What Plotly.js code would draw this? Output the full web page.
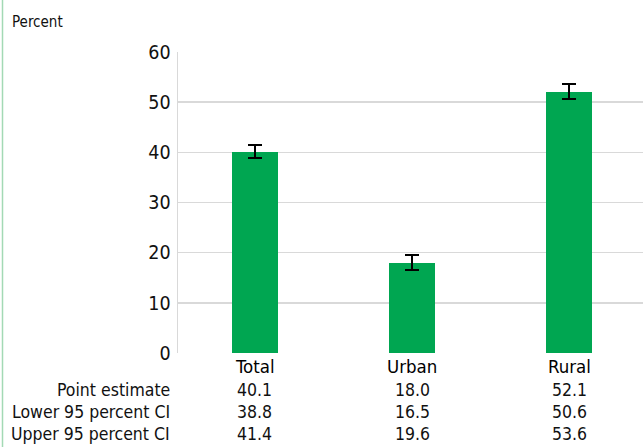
<!DOCTYPE html>
<html>
<head>
<meta charset="utf-8">
<script src="https://cdn.plot.ly/plotly-3.0.1.min.js"></script>
<style>
  html, body { margin: 0; padding: 0; background: #fff; }
  #chart { width: 643px; height: 447px; }
</style>
</head>
<body>
<div id="chart"></div>
<script>
// Share of respondents by residence, with 95% confidence intervals
const categories = ['Total', 'Urban', 'Rural'];
const pointEstimate = [40.1, 18.0, 52.1];
const lowerCI = [38.8, 16.5, 50.6];
const upperCI = [41.4, 19.6, 53.6];
const rowLabels = ['Point estimate', 'Lower 95 percent CI', 'Upper 95 percent CI'];
const yTicks = [0, 10, 20, 30, 40, 50, 60];

const FONT = '"DejaVu Sans Condensed", "Liberation Sans Narrow", sans-serif';
const W = 643, H = 447;
const M = { l: 178, r: 0, t: 52, b: 94 };
const plotH = H - M.t - M.b;
const plotW = W - M.l - M.r;
const py = px => (H - M.b - px) / plotH;   // pixel row -> paper y
const pxX = px => (px - M.l) / plotW;        // pixel column -> paper x

const idx = categories.map((_, i) => i);

const trace = {
  type: 'bar',
  x: idx,
  y: pointEstimate,
  width: 0.293,
  marker: { color: '#00a651', line: { width: 0 } },
  error_y: {
    type: 'data',
    symmetric: false,
    array: upperCI.map((u, i) => +(u - pointEstimate[i]).toFixed(2)),
    arrayminus: lowerCI.map((l, i) => +(pointEstimate[i] - l).toFixed(2)),
    color: '#000',
    thickness: 2,
    width: 7
  },
  hoverinfo: 'skip'
};

const annotations = [];
// category header row
categories.forEach((c, i) => {
  annotations.push({
    xref: 'x', yref: 'paper', x: i, y: py(366),
    text: c, showarrow: false, xanchor: 'center', yanchor: 'middle',
    font: { family: FONT, size: 18.5, color: '#000', weight: 500 }
  });
});
// table rows
const rows = [pointEstimate, lowerCI, upperCI];
const rowY = [390, 412, 434];
rows.forEach((vals, r) => {
  annotations.push({
    xref: 'paper', yref: 'paper', x: pxX(172), y: py(rowY[r]),
    text: rowLabels[r], showarrow: false, xanchor: 'right', yanchor: 'middle',
    font: { family: FONT, size: 17.5, color: '#111' }
  });
  vals.forEach((v, i) => {
    annotations.push({
      xref: 'x', yref: 'paper', x: i, y: py(rowY[r]),
      text: v.toFixed(1), showarrow: false, xanchor: 'center', yanchor: 'middle',
      font: { family: FONT, size: 17.5, color: '#111' }
    });
  });
});
// axis unit label
annotations.push({
  xref: 'paper', yref: 'paper', x: pxX(10), y: py(22),
  text: 'Percent', showarrow: false, xanchor: 'left', yanchor: 'middle',
  font: { family: FONT, size: 15, color: '#111' }
});

const layout = {
  width: W, height: H,
  margin: M,
  paper_bgcolor: '#fff',
  plot_bgcolor: '#fff',
  showlegend: false,
  bargap: 0,
  xaxis: {
    range: [-0.49, 2.47],
    showticklabels: false,
    showgrid: false,
    zeroline: false,
    showline: false,
    ticks: '',
    fixedrange: true
  },
  yaxis: {
    range: [0, 60],
    tickvals: yTicks,
    ticktext: yTicks.map(String),
    showgrid: true,
    gridcolor: '#d9d9d9',
    gridwidth: 1.5,
    zeroline: false,
    showline: true,
    linecolor: '#d9d9d9',
    linewidth: 1.5,
    ticks: '',
    ticklen: 0,
    ticklabelstandoff: 2,
    tickfont: { family: FONT, size: 19.5, color: '#111' },
    fixedrange: true
  },
  shapes: [{
    type: 'line', xref: 'paper', yref: 'paper',
    x0: pxX(2.5), x1: pxX(2.5), y0: py(0), y1: py(H),
    line: { color: '#a3d9b5', width: 1.5 }
  }],
  annotations: annotations
};

Plotly.newPlot('chart', [trace], layout, { displayModeBar: false, staticPlot: true });
</script>
</body>
</html>
